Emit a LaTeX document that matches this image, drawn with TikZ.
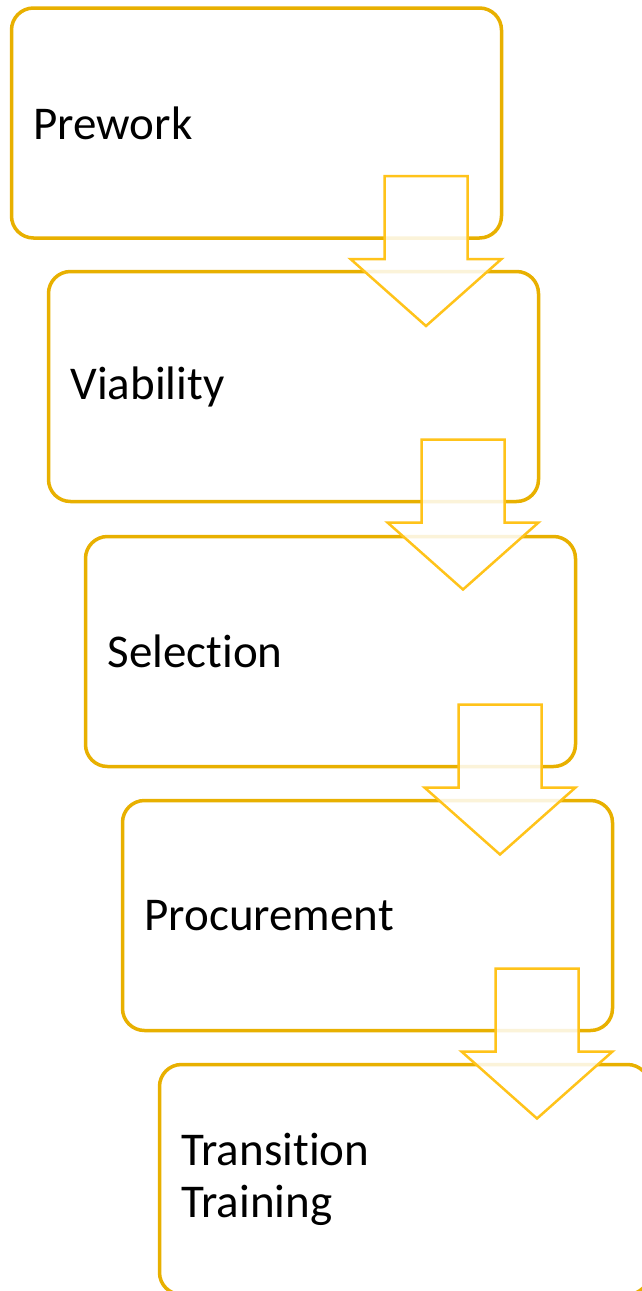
\documentclass[tikz,border=0pt]{standalone}
\usepackage{fontspec}
\setmainfont{Carlito}[Ligatures=NoCommon]
\definecolor{stageGold}{HTML}{E8B000}
\definecolor{flowGold}{HTML}{FFC31A}
\usepackage{tikz}
\usetikzlibrary{calc, positioning}

\begin{document}
\begin{tikzpicture}
		[x=1pt, y=-1pt,
		stage/.style ={rectangle, draw=stageGold, line width=3.5pt, fill=white, rounded corners=22pt, minimum width=490pt, minimum height=230pt, inner xsep=22pt, outer sep=0pt, text width=446pt, align=left, font=\fontsize{47}{52}\selectfont},
		flow/.style ={draw=flowGold, line width=2.5pt, fill=white, fill opacity=0.85, line join=miter}]
		\clip (0,0) rectangle (642,1291);
		\fill[white] (0,0) rectangle (642,1291);

		\draw (256.5,123) node[stage] (prework) {Prework};
		\draw (293.5,386.5) node[stage] (viability) {Viability};
		\draw (330.5,651.5) node[stage] (selection) {Selection};
		\draw (367.5,915.5) node[stage] (procurement) {Procurement};
		\draw (404.5,1179.5) node[stage] (transition) {Transition\\Training};

		% block arrows between the stages
		\foreach \s in {prework, viability, selection, procurement}
			\draw[flow] ($(\s.south east)+(-117,-62)$) -- ($(\s.south east)+(-34,-62)$) -- ($(\s.south east)+(-34,21)$) -- ($(\s.south east)+(0,21)$) -- ($(\s.south east)+(-75.5,88)$) -- ($(\s.south east)+(-151,21)$) -- ($(\s.south east)+(-117,21)$) -- cycle;

	\end{tikzpicture}
\end{document}
